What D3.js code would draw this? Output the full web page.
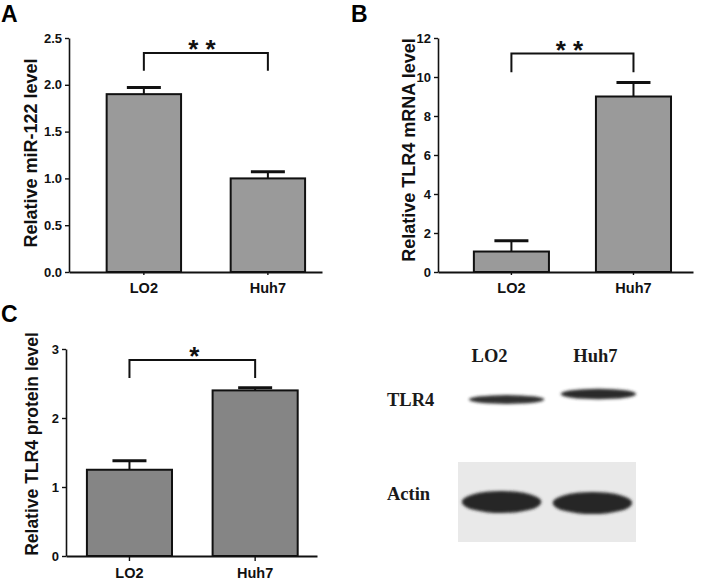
<!DOCTYPE html>
<html>
<head>
<meta charset="utf-8">
<script src="https://cdn.jsdelivr.net/npm/d3@7"></script>
<style>
  body { margin: 0; background: #fff; }
  svg { display: block; }
  .tick text { font-family: "Liberation Sans", Arial, sans-serif; font-weight: bold; }
</style>
</head>
<body>
<svg id="fig" width="709" height="587"></svg>
<script>
// data
const categories = ['LO2', 'Huh7'];

const mirValues = [1.90, 1.00];
const mirErrors = [0.07, 0.07];
const mirTicks = [0, 0.5, 1.0, 1.5, 2.0, 2.5];

const mrnaValues = [1.05, 9.00];
const mrnaErrors = [0.55, 0.72];
const mrnaTicks = [0, 2, 4, 6, 8, 10, 12];

const proteinValues = [1.25, 2.40];
const proteinErrors = [0.13, 0.04];
const proteinTicks = [0, 1, 2, 3];

const sigLabels = ['* *', '* *', '*'];

// western blot: relative band strength per lane
const blotLanes = ['LO2', 'Huh7'];
const blotRows = ['TLR4', 'Actin'];
const tlr4Bands = [0.85, 1.0];
const actinBands = [1.0, 1.0];

const svg = d3.select('#fig');
const sans = '"Liberation Sans", Arial, sans-serif';
const serif = '"Liberation Serif", "Times New Roman", serif';

function barPanel(cfg) {
    const g = svg.append('g');
    const x = d3.scaleBand()
        .domain(categories)
        .range([cfg.left, cfg.right])
        .paddingInner(cfg.pi)
        .paddingOuter(cfg.po)
        .align(cfg.align);
    const y = d3.scaleLinear().domain([0, cfg.max]).range([cfg.bottom, cfg.top]);

    const data = categories.map((c, i) => ({ c: c, v: cfg.values[i], e: cfg.errors[i] }));
    const cx = d => x(d.c) + x.bandwidth() / 2;

    // error bars first, bar outline goes on top
    g.selectAll('line.err').data(data).join('line')
        .attr('x1', cx).attr('x2', cx)
        .attr('y1', d => y(d.v)).attr('y2', d => y(d.v + d.e))
        .attr('stroke', '#111').attr('stroke-width', 2);
    g.selectAll('line.cap').data(data).join('line')
        .attr('x1', d => cx(d) - 17).attr('x2', d => cx(d) + 17)
        .attr('y1', d => y(d.v + d.e)).attr('y2', d => y(d.v + d.e))
        .attr('stroke', '#111').attr('stroke-width', 3);

    g.selectAll('rect.bar').data(data).join('rect')
        .attr('class', 'bar')
        .attr('x', d => x(d.c))
        .attr('y', d => y(d.v))
        .attr('width', x.bandwidth())
        .attr('height', d => y(0) - y(d.v))
        .attr('fill', cfg.fill)
        .attr('stroke', '#111')
        .attr('stroke-width', 2);

    // axes
    const ya = g.append('g')
        .attr('transform', `translate(${cfg.left},0)`)
        .call(d3.axisLeft(y).tickValues(cfg.ticks).tickFormat(cfg.fmt).tickSize(4).tickSizeOuter(0).tickPadding(3));
    ya.selectAll('text').style('font-size', '13px').attr('fill', '#111');
    ya.select('.domain').attr('stroke', '#111').attr('stroke-width', 1.6);
    ya.selectAll('.tick line').attr('stroke', '#111').attr('stroke-width', 1.4);

    const xa = g.append('g')
        .attr('transform', `translate(0,${cfg.bottom})`)
        .call(d3.axisBottom(x).tickSize(cfg.xTick).tickSizeOuter(0).tickPadding(cfg.xPad));
    xa.selectAll('text').style('font-size', '14.5px').attr('fill', '#111');
    xa.select('.domain').attr('stroke', '#111').attr('stroke-width', 2);
    xa.selectAll('.tick line').attr('stroke', '#111').attr('stroke-width', 1.4);

    // y label
    g.append('text')
        .attr('transform', `translate(${cfg.labelX},${cfg.labelY}) rotate(-90)`)
        .attr('text-anchor', 'middle')
        .style('font-family', sans).style('font-weight', 'bold')
        .style('font-size', cfg.labelSize + 'px')
        .attr('fill', '#111')
        .text(cfg.label);

    // significance bracket
    const x1 = cx(data[0]), x2 = cx(data[1]);
    g.append('path')
        .attr('d', `M${x1},${y(cfg.bracketLow)}V${y(cfg.bracketTop)}H${x2}V${y(cfg.bracketLow)}`)
        .attr('fill', 'none').attr('stroke', '#111').attr('stroke-width', 2);
    g.append('text')
        .attr('x', (x1 + x2) / 2 + cfg.sigShift)
        .attr('y', y(cfg.bracketTop) + 5)
        .attr('text-anchor', 'middle')
        .style('font-family', sans).style('font-weight', 'bold').style('font-size', '26px')
        .attr('fill', '#111')
        .text(cfg.sig);

    // panel letter
    svg.append('text')
        .attr('x', cfg.letterX).attr('y', cfg.letterY)
        .style('font-family', sans).style('font-weight', 'bold').style('font-size', '23px')
        .attr('fill', '#000')
        .text(cfg.letter);
}

barPanel({
    letter: 'A', letterX: 1, letterY: 22,
    values: mirValues, errors: mirErrors, ticks: mirTicks, fmt: d3.format('.1f'), max: 2.5,
    left: 69, right: 322, top: 38, bottom: 272, pi: 0.4, po: 0.22, align: 0.69,
    xTick: 3, xPad: 8, fill: '#9a9a9a',
    label: 'Relative miR-122 level', labelX: 37, labelY: 153, labelSize: 18,
    bracketTop: 2.34, bracketLow: 2.15, sig: sigLabels[0], sigShift: -4
});

barPanel({
    letter: 'B', letterX: 351, letterY: 22,
    values: mrnaValues, errors: mrnaErrors, ticks: mrnaTicks, fmt: d3.format('d'), max: 12,
    left: 438, right: 693, top: 38, bottom: 272, pi: 0.385, po: 0.237, align: 0.62,
    xTick: 3, xPad: 8, fill: '#9a9a9a',
    label: 'Relative TLR4 mRNA level', labelX: 415, labelY: 150, labelSize: 18,
    bracketTop: 11.2, bracketLow: 10.25, sig: sigLabels[1], sigShift: -3
});

barPanel({
    letter: 'C', letterX: 1, letterY: 322,
    values: proteinValues, errors: proteinErrors, ticks: proteinTicks, fmt: d3.format('d'), max: 3,
    left: 66, right: 317, top: 349, bottom: 556, pi: 0.323, po: 0.16, align: 0.52,
    xTick: 5, xPad: 7, fill: '#858585',
    label: 'Relative TLR4 protein level', labelX: 38, labelY: 444, labelSize: 17.5,
    bracketTop: 2.84, bracketLow: 2.58, sig: sigLabels[2], sigShift: 2
});

// ---- western blot ----
const blot = svg.append('g');
const defs = svg.append('defs');
defs.append('filter').attr('id', 'soft')
    .attr('x', '-20%').attr('y', '-60%').attr('width', '140%').attr('height', '220%')
    .append('feGaussianBlur').attr('stdDeviation', 1.5);

const lane = d3.scaleBand().domain(blotLanes).range([458, 636]).paddingInner(0.08).paddingOuter(0.02);
const row = d3.scalePoint().domain(blotRows).range([396, 502]);

// actin film background
blot.append('rect')
    .attr('x', lane.range()[0]).attr('y', row('Actin') - 40)
    .attr('width', lane.range()[1] - lane.range()[0]).attr('height', 80)
    .attr('fill', '#e9e9e9');

// TLR4 bands
blot.selectAll('ellipse.tlr').data(blotLanes.map((l, i) => ({ l: l, s: tlr4Bands[i], i: i })))
    .join('ellipse')
    .attr('cx', d => lane(d.l) + lane.bandwidth() / 2 + (d.i === 0 ? 5 : 6))
    .attr('cy', d => row('TLR4') + (d.i === 0 ? 3.5 : -2))
    .attr('rx', d => lane.bandwidth() / 2 - 4)
    .attr('ry', d => 5.2 * d.s)
    .attr('fill', '#2b2b2b')
    .attr('opacity', d => 0.8 + 0.2 * d.s)
    .attr('filter', 'url(#soft)');

// actin bands
blot.selectAll('ellipse.act').data(blotLanes.map((l, i) => ({ l: l, s: actinBands[i], i: i })))
    .join('ellipse')
    .attr('cx', d => lane(d.l) + lane.bandwidth() / 2)
    .attr('cy', d => row('Actin') + (d.i === 0 ? 0 : 1))
    .attr('rx', d => lane.bandwidth() / 2 - 2)
    .attr('ry', d => 11 * d.s)
    .attr('fill', '#262626')
    .attr('filter', 'url(#soft)');

// lane labels
blot.selectAll('text.lane').data(blotLanes).join('text')
    .attr('x', d => lane(d) + lane.bandwidth() / 2 + (d === 'LO2' ? -12 : 3))
    .attr('y', 362)
    .attr('text-anchor', 'middle')
    .style('font-family', serif).style('font-weight', 'bold').style('font-size', '18.5px')
    .attr('fill', '#1a1a1a')
    .text(d => d);

// row labels
blot.selectAll('text.row').data(blotRows).join('text')
    .attr('x', 387)
    .attr('y', d => row(d) + (d === 'Actin' ? -2 : 10))
    .style('font-family', serif).style('font-weight', 'bold').style('font-size', '18.5px')
    .attr('fill', '#1a1a1a')
    .text(d => d);
</script>
</body>
</html>
